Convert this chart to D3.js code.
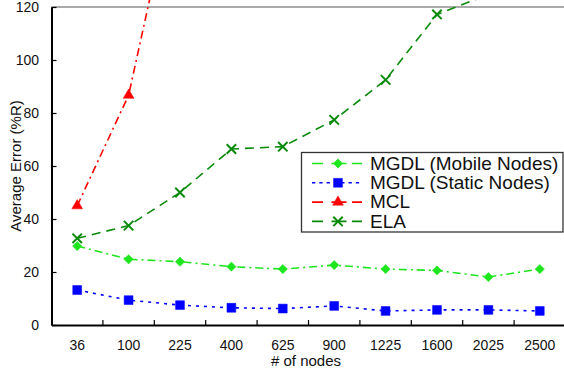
<!DOCTYPE html>
<html>
<head>
<meta charset="utf-8">
<script src="https://cdn.jsdelivr.net/npm/d3@7"></script>
<style>
  html, body { margin: 0; padding: 0; background: #fff; }
  svg { display: block; font-family: "Liberation Sans", Arial, sans-serif; }
</style>
</head>
<body>
<svg id="chart" width="564" height="375"></svg>
<script>
// Number of nodes in the network (x categories)
const nodeCounts = ["36", "100", "225", "400", "625", "900", "1225", "1600", "2025", "2500"];

// Average localisation error, in % of radio range R
const mgdlMobile = [29.8, 24.8, 23.9, 22.0, 21.1, 22.6, 21.1, 20.6, 18.1, 21.1];
const mgdlStatic = [13.2, 9.4, 7.5, 6.5, 6.2, 7.2, 5.3, 5.7, 5.7, 5.3];
const mcl        = [45.0, 86.7, 175.0];
const ela        = [32.7, 37.5, 50.0, 66.4, 67.3, 77.4, 92.5, 117.2, 124.7];

const yTicks = [0, 20, 40, 60, 80, 100, 120];

const seriesNames = ["MGDL (Mobile Nodes)", "MGDL (Static Nodes)", "MCL", "ELA"];

const series = [
  { name: seriesNames[0], values: mgdlMobile, color: "#1ee61e", dash: "8,4,2,4", legendDash: "11,8.5,15,5.5,10", symbol: d3.symbolDiamond2, size: 55 },
  { name: seriesNames[1], values: mgdlStatic, color: "#0000ff", dash: "3,5",     legendDash: "3.3,4",            symbol: d3.symbolSquare2,  size: 100 },
  { name: seriesNames[2], values: mcl,        color: "#ff0000", dash: "8,4,2,4", legendDash: "11,8.5,15,5.5,10", symbol: d3.symbolTriangle, size: 50 },
  { name: seriesNames[3], values: ela,        color: "#0a8a0a", dash: "9,6",     legendDash: "11,8.5,15,5.5,10", symbol: d3.symbolX,        size: 60 }
];

const svg = d3.select("#chart");
const W = 564, H = 375;
const plot = { left: 51.5, right: 565.5, top: 7, bottom: 325 };

const x = d3.scaleBand().domain(nodeCounts).range([plot.left, plot.right]).padding(0);
const xc = c => x(c) + x.bandwidth() / 2;
const y = d3.scaleLinear().domain([0, 120]).range([plot.bottom, plot.top]);

// Clip the series to the drawing area (lines may run off the top)
svg.append("defs").append("clipPath").attr("id", "plotClip")
  .append("rect").attr("x", plot.left).attr("y", 0)
  .attr("width", W - plot.left).attr("height", plot.bottom);

// Top frame line
svg.append("line")
  .attr("x1", plot.left).attr("x2", W)
  .attr("y1", plot.top).attr("y2", plot.top)
  .attr("stroke", "#8c8c8c").attr("stroke-width", 1.5);

// Y axis: ticks pointing inwards
const yAxis = svg.append("g").attr("transform", `translate(${plot.left},0)`)
  .call(d3.axisLeft(y).tickValues(yTicks).tickSize(-5).tickPadding(12.5).tickSizeOuter(0));
yAxis.select(".domain").attr("stroke", "#000").attr("stroke-width", 2);
yAxis.selectAll(".tick line").attr("stroke", "#000").attr("stroke-width", 1.2);
yAxis.selectAll(".tick text").attr("font-size", 14).attr("fill", "#111")
  .attr("font-family", "Liberation Sans, Arial, sans-serif");

// X axis: labels at category centres, tick marks between categories
const xAxis = svg.append("g").attr("transform", `translate(0,${plot.bottom})`)
  .call(d3.axisBottom(x).tickSize(0).tickPadding(15.5).tickSizeOuter(0));
xAxis.select(".domain").attr("stroke", "#000").attr("stroke-width", 2);
xAxis.selectAll(".tick text").attr("font-size", 14).attr("fill", "#111")
  .attr("font-family", "Liberation Sans, Arial, sans-serif");
xAxis.selectAll(".between").data(nodeCounts.slice(1)).enter().append("line")
  .attr("class", "between")
  .attr("x1", c => x(c)).attr("x2", c => x(c))
  .attr("y1", 0).attr("y2", -5)
  .attr("stroke", "#000").attr("stroke-width", 1.2);

// Axis titles
svg.append("text")
  .attr("x", 306).attr("y", 366)
  .attr("text-anchor", "middle").attr("font-size", 15).attr("fill", "#111")
  .text("# of nodes");
svg.append("text")
  .attr("transform", "translate(21,166) rotate(-90)")
  .attr("text-anchor", "middle").attr("font-size", 15).attr("fill", "#111")
  .text("Average Error (%R)");

// Series lines and markers
const line = d3.line().x((d, i) => xc(nodeCounts[i])).y(d => y(d));
const plotG = svg.append("g").attr("clip-path", "url(#plotClip)");

series.forEach(s => {
  plotG.append("path")
    .attr("d", line(s.values))
    .attr("fill", "none")
    .attr("stroke", s.color)
    .attr("stroke-width", 1.6)
    .attr("stroke-dasharray", s.dash);
  const sym = d3.symbol().type(s.symbol).size(s.size);
  plotG.selectAll(null).data(s.values).enter().append("path")
    .attr("d", sym)
    .attr("transform", (d, i) => `translate(${xc(nodeCounts[i])},${y(d)})`)
    .attr("fill", s.symbol === d3.symbolX ? "none" : s.color)
    .attr("stroke", s.color)
    .attr("stroke-width", s.symbol === d3.symbolX ? 2 : 0.5);
});

// Legend
const legend = svg.append("g");
legend.append("rect")
  .attr("x", 301.5).attr("y", 152.5)
  .attr("width", 261.5).attr("height", 79.5)
  .attr("fill", "#fff").attr("stroke", "#333").attr("stroke-width", 1.3);

const rowY = [163.5, 182.8, 202.1, 221.4];
series.forEach((s, i) => {
  const g = legend.append("g").attr("transform", `translate(0,${rowY[i]})`);
  g.append("line")
    .attr("x1", 312).attr("x2", 362).attr("y1", 0).attr("y2", 0)
    .attr("stroke", s.color).attr("stroke-width", 1.6)
    .attr("stroke-dasharray", s.legendDash);
  g.append("path")
    .attr("d", d3.symbol().type(s.symbol).size(s.size)())
    .attr("transform", "translate(338,0)")
    .attr("fill", s.symbol === d3.symbolX ? "none" : s.color)
    .attr("stroke", s.color)
    .attr("stroke-width", s.symbol === d3.symbolX ? 2 : 0.5);
  g.append("text")
    .attr("x", 370).attr("y", 6.3)
    .attr("font-size", 19).attr("fill", "#111")
    .text(s.name);
});
</script>
</body>
</html>
